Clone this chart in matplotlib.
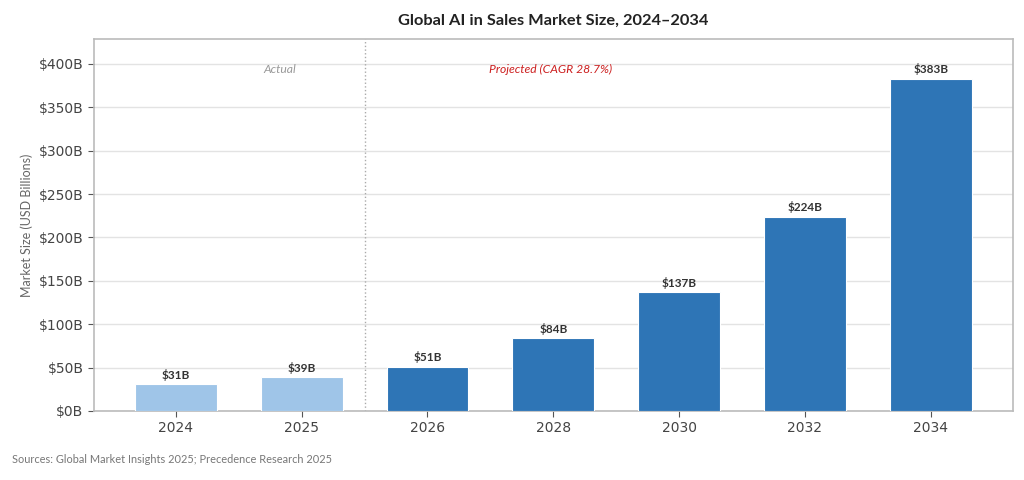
import matplotlib
matplotlib.use('Agg')
import matplotlib.pyplot as plt

years = ['2024', '2025', '2026', '2028', '2030', '2032', '2034']
values = [31, 39, 51, 84, 137, 224, 383]
actual = [True, True, False, False, False, False, False]
yticks = [0, 50, 100, 150, 200, 250, 300, 350, 400]

light = '#9fc5e8'
dark = '#2e75b6'

fig = plt.figure(figsize=(10.24, 4.8), dpi=100)
ax = fig.add_axes([0.0918, 0.144, 0.897, 0.775])

x = list(range(len(years)))
colors = [light if a else dark for a in actual]
bars = ax.bar(x, values, width=0.65, color=colors, edgecolor='white', linewidth=0.8, zorder=3)

for xi, v in zip(x, values):
    ax.text(xi, v + 4, '$%dB' % v, ha='center', va='bottom', fontsize=8.5,
            fontweight='bold', family='Lato', color='#333333', zorder=4)

ax.set_xlim(-0.65, len(years) - 0.35)
ax.set_ylim(0, max(values) * 1.12)
ax.set_xticks(x)
ax.set_xticklabels(years)
ax.set_yticks(yticks)
ax.set_yticklabels(['$%dB' % t for t in yticks])
ax.tick_params(axis='both', labelsize=10, colors='#444444', length=4)
ax.tick_params(axis='both', color='#555555')

ax.grid(axis='y', color='#e3e3e3', linewidth=1, zorder=0)
for s in ax.spines.values():
    s.set_color('#bbbbbb')
    s.set_linewidth(1.2)

ax.axvline(1.5, color='#aaaaaa', linestyle=':', linewidth=1, zorder=2)
ax.text(0.83, 400, 'Actual', ha='center', va='top', fontsize=8.7, style='italic',
        family='Lato', color='#999999')
ax.text(2.98, 400, 'Projected (CAGR 28.7%)', ha='center', va='top', fontsize=8.7,
        style='italic', family='Lato', color='#cc1f1f')

ax.set_ylabel('Market Size (USD Billions)', fontsize=9, family='Lato', color='#666666')
ax.set_title('Global AI in Sales Market Size, 2024\u20132034', fontsize=11.8, fontweight='bold',
             family='Lato', color='#222222', pad=10)

fig.text(0.012, 0.035, 'Sources: Global Market Insights 2025; Precedence Research 2025',
         fontsize=7.9, family='Lato', color='#777777')

fig.savefig('out.png', dpi=100)
